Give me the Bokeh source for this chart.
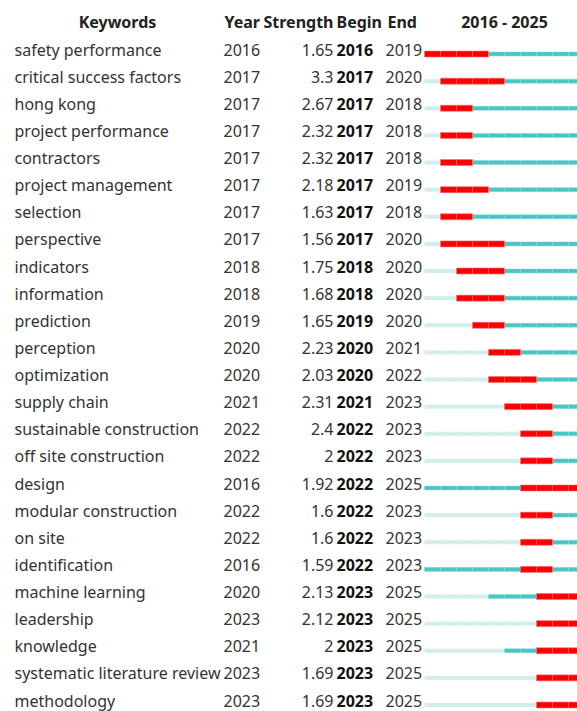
from bokeh.plotting import figure
from bokeh.models import Range1d, ColumnDataSource
from bokeh.core.properties import value
from bokeh.embed import file_html
from bokeh.resources import INLINE

keywords = ["safety performance", "critical success factors", "hong kong", "project performance",
            "contractors", "project management", "selection", "perspective", "indicators",
            "information", "prediction", "perception", "optimization", "supply chain",
            "sustainable construction", "off site construction", "design", "modular construction",
            "on site", "identification", "machine learning", "leadership", "knowledge",
            "systematic literature review", "methodology"]
years = [2016, 2017, 2017, 2017, 2017, 2017, 2017, 2017, 2018, 2018, 2019, 2020, 2020, 2021,
         2022, 2022, 2016, 2022, 2022, 2016, 2020, 2023, 2021, 2023, 2023]
strength = [1.65, 3.3, 2.67, 2.32, 2.32, 2.18, 1.63, 1.56, 1.75, 1.68, 1.65, 2.23, 2.03, 2.31,
            2.4, 2, 1.92, 1.6, 1.6, 1.59, 2.13, 2.12, 2, 1.69, 1.69]
begin = [2016, 2017, 2017, 2017, 2017, 2017, 2017, 2017, 2018, 2018, 2019, 2020, 2020, 2021,
         2022, 2022, 2022, 2022, 2022, 2022, 2023, 2023, 2023, 2023, 2023]
end = [2019, 2020, 2018, 2018, 2018, 2019, 2018, 2020, 2020, 2020, 2020, 2021, 2022, 2023,
       2023, 2023, 2025, 2023, 2023, 2023, 2025, 2025, 2025, 2025, 2025]
headers = ["Keywords", "Year", "Strength", "Begin", "End", "2016 - 2025"]
first_year, last_year = 2016, 2025

FONT = "Noto Sans"
FS = "16px"
W, H = 577, 711

p = figure(width=W, height=H, output_backend="svg", toolbar_location=None,
           x_range=Range1d(0, W), y_range=Range1d(H, 0),
           min_border=0, outline_line_color=None)
p.xaxis.visible = False
p.yaxis.visible = False
p.xgrid.visible = False
p.ygrid.visible = False

top, step = 49.0, 27.125
ys = [top + i * step for i in range(len(keywords))]

x_kw, x_year, x_str, x_beg, x_end = 14, 223, 333, 336, 385
bar_x0, cell = 424, 16

hdr = dict(text_baseline="middle", text_font=value(FONT), text_font_size=FS,
           text_font_style="bold", text_color="#222222")
hy = 21
p.text(x=[117], y=[hy], text=[headers[0]], text_align="center", **hdr)
p.text(x=[x_year + 1], y=[hy], text=[headers[1]], text_align="left", **hdr)
p.text(x=[x_str], y=[hy], text=[headers[2]], text_align="right", **hdr)
p.text(x=[x_beg], y=[hy], text=[headers[3]], text_align="left", **hdr)
p.text(x=[x_end + 2], y=[hy], text=[headers[4]], text_align="left", **hdr)
p.text(x=[bar_x0 + cell * (last_year - first_year + 1) / 2], y=[hy], text=[headers[5]],
       text_align="center", **hdr)

src = ColumnDataSource(dict(
    y=ys, kw=keywords, yr=[str(v) for v in years],
    st=["{:g}".format(v) for v in strength],
    bg=[str(v) for v in begin], en=[str(v) for v in end]))

common = dict(source=src, y="y", text_baseline="middle", text_font=value(FONT),
              text_font_size=FS)
p.text(x=x_kw, text="kw", text_align="left", text_color="#333333", **common)
p.text(x=x_year, text="yr", text_align="left", text_color="#333333", **common)
p.text(x=x_str, text="st", text_align="right", text_color="#333333", **common)
p.text(x=x_beg, text="bg", text_align="left", text_color="#111111", text_font_style="bold", **common)
p.text(x=x_end, text="en", text_align="left", text_color="#333333", **common)

light = dict(x=[], y=[])
teal = dict(x=[], y=[])
red = dict(x=[], y=[])
for i, y in enumerate(ys):
    by = y + 4.5
    for yr in range(first_year, last_year + 1):
        cx = bar_x0 + (yr - first_year) * cell + cell / 2
        if begin[i] <= yr <= end[i]:
            red["x"].append(cx); red["y"].append(by)
        elif yr >= years[i]:
            teal["x"].append(cx); teal["y"].append(by)
        else:
            light["x"].append(cx); light["y"].append(by)

p.rect(x=light["x"], y=light["y"], width=cell, height=4, fill_color="#d3eded",
       line_color=None)
p.rect(x=teal["x"], y=teal["y"], width=cell, height=4, fill_color="#4ac4c4",
       line_color="#86d8d8", line_width=0.5)
p.rect(x=red["x"], y=red["y"], width=cell, height=6, fill_color="#ff0000",
       line_color="#ff7070", line_width=0.6)

open("out.html", "w").write(file_html(p, INLINE))
